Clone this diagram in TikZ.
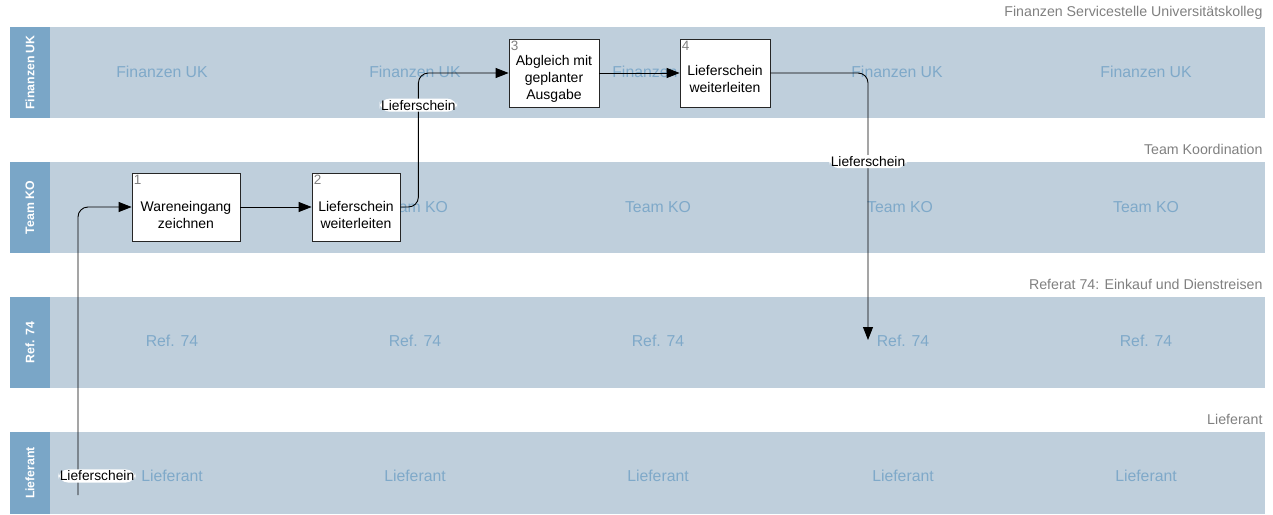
\documentclass[tikz,border=0pt]{standalone}
\usepackage{fontspec}
\setmainfont{Liberation Sans}
\usetikzlibrary{arrows.meta}
\definecolor{headblue}{HTML}{7AA6C7}
\definecolor{laneblue}{HTML}{BFCFDC}
\definecolor{markblue}{HTML}{7FA9C9}
\definecolor{titlegray}{HTML}{808080}
\newcommand{\headcol}{headblue}
\newcommand{\lanecol}{laneblue}
\newcommand{\markcol}{markblue}

\begin{document}
\begin{tikzpicture}[x=1pt, y=-1pt,
    lane/.style={fill=\lanecol},
    head/.style={fill=\headcol, rotate=90, minimum width=91pt, minimum height=40pt,
      inner sep=0pt, text=white, font=\fontsize{12.3}{14}\selectfont\bfseries},
    lanetext/.style={text=\markcol, font=\fontsize{15.8}{18}\selectfont},
    title/.style={anchor=east, text=titlegray, font=\fontsize{14.2}{16}\selectfont},
    stepbox/.style={draw=black!85, fill=white, line width=0.8pt, minimum height=68pt},
    steptext/.style={align=center, font=\fontsize{14}{17}\selectfont},
    stepnum/.style={anchor=north west, inner sep=2pt, text=titlegray, font=\fontsize{13.5}{15}\selectfont},
    flow/.style={draw=black, line width=0.9pt, rounded corners=10pt,
      -{Triangle[length=13pt, width=10pt]}},
    lbl/.style={fill=white, inner sep=1.5pt, font=\fontsize{13.8}{16}\selectfont}]

    \useasboundingbox (0, 0) rectangle (1273, 514);

    % lanes
    \fill[lane] (50, 27) rectangle (1265, 118);
    \fill[lane] (50, 162) rectangle (1265, 253);
    \fill[lane] (50, 297) rectangle (1265, 388);
    \fill[lane] (50, 432) rectangle (1265, 514);

    \node[head] (hfuk) at (30, 72.5) {Finanzen UK};
    \node[head] (hko) at (30, 207.5) {Team KO};
    \node[head] (href) at (30, 342.5) {Ref. 74};
    \node[head, minimum width=82pt] (hlief) at (30, 473) {Lieferant};

    \node[title] (tfuk) at (1266, 13) {Finanzen Servicestelle Universitätskolleg};
    \node[title] (tko) at (1266, 149) {Team Koordination};
    \node[title] (tref) at (1266, 284) {Referat 74: Einkauf und Dienstreisen};
    \node[title] (tlief) at (1266, 419) {Lieferant};

    % lane watermarks
    \node[lanetext] (wfuk1) at (162, 72) {Finanzen UK};
    \node[lanetext] (wfuk2) at (415, 72) {Finanzen UK};
    \node[lanetext] (wfuk3) at (658, 72) {Finanzen UK};
    \node[lanetext] (wfuk4) at (897, 72) {Finanzen UK};
    \node[lanetext] (wfuk5) at (1146, 72) {Finanzen UK};

    \node[lanetext] (wko1) at (172, 207) {Team KO};
    \node[lanetext] (wko2) at (415, 207) {Team KO};
    \node[lanetext] (wko3) at (658, 207) {Team KO};
    \node[lanetext] (wko4) at (900, 207) {Team KO};
    \node[lanetext] (wko5) at (1146, 207) {Team KO};

    \node[lanetext] (wref1) at (172, 341) {Ref. 74};
    \node[lanetext] (wref2) at (415, 341) {Ref. 74};
    \node[lanetext] (wref3) at (658, 341) {Ref. 74};
    \node[lanetext] (wref4) at (903, 341) {Ref. 74};
    \node[lanetext] (wref5) at (1146, 341) {Ref. 74};

    \node[lanetext] (wlief1) at (172, 476) {Lieferant};
    \node[lanetext] (wlief2) at (415, 476) {Lieferant};
    \node[lanetext] (wlief3) at (658, 476) {Lieferant};
    \node[lanetext] (wlief4) at (903, 476) {Lieferant};
    \node[lanetext] (wlief5) at (1146, 476) {Lieferant};

    % steps
    \node[stepbox, minimum width=108pt] (s1) at (186, 207) {};
    \node[stepbox, minimum width=88pt] (s2) at (356, 207) {};
    \node[stepbox, minimum width=90pt] (s3) at (554, 73) {};
    \node[stepbox, minimum width=90pt] (s4) at (725, 73) {};

    \node[steptext] (t1) at ([yshift=-8pt]s1.center) {Wareneingang\\zeichnen};
    \node[steptext] (t2) at ([yshift=-8pt]s2.center) {Lieferschein\\weiterleiten};
    \node[steptext] (t3) at ([yshift=-6pt]s3.center) {Abgleich mit\\geplanter\\Ausgabe};
    \node[steptext] (t4) at ([yshift=-6pt]s4.center) {Lieferschein\\weiterleiten};

    \node[stepnum] (n1) at (s1.north west) {1};
    \node[stepnum] (n2) at (s2.north west) {2};
    \node[stepnum] (n3) at (s3.north west) {3};
    \node[stepnum] (n4) at (s4.north west) {4};

    % flow
    \coordinate (start) at (78, 495);
    \coordinate (stop) at (868, 340);

    \draw[flow] (start) |- node[lbl, pos=0.033, xshift=19pt] {Lieferschein} (s1.west);
    \draw[flow] (s1.east) -- (s2.west);
    \draw[flow] (s2.east) -- ++(18, 0) |- node[lbl, pos=0.38] {Lieferschein} (s3.west);
    \draw[flow] (s3.east) -- (s4.west);
    \draw[flow] (s4.east) -| node[lbl, pos=0.666] {Lieferschein} (stop);

\end{tikzpicture}
\end{document}
